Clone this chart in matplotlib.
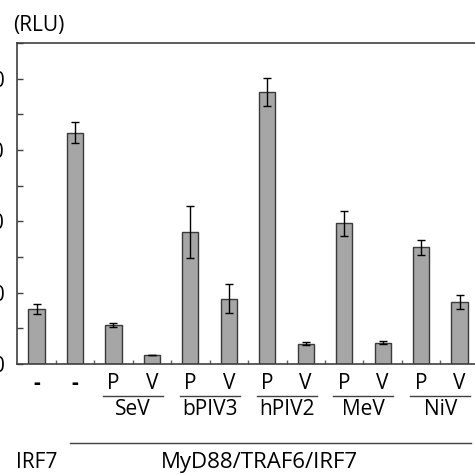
import matplotlib
matplotlib.use('Agg')

from matplotlib import pyplot
import numpy as np

pyplot.rcParams['font.family'] = ['Open Sans', 'DejaVu Sans']

# bar data (RLU)
bar_labels = ['-', '-', 'P', 'V', 'P', 'V', 'P', 'V', 'P', 'V', 'P', 'V']
values = [15.4, 64.9, 10.9, 2.4, 36.9, 18.3, 76.3, 5.7, 39.4, 6.0, 32.7, 17.4]
errors = [1.4, 2.9, 0.5, 0.0, 7.3, 4.0, 4.0, 0.4, 3.5, 0.35, 2.0, 2.05]
groups = ['SeV', 'bPIV3', 'hPIV2', 'MeV', 'NiV']
y_ticks = [0, 20, 40, 60, 80]

FS = 15

fig = pyplot.figure(figsize=(4.75, 4.75), dpi=100)
ax = fig.add_axes([0.0364, 1 - 364 / 475.0, 0.9716, 321 / 475.0])

x = np.arange(len(values))
ax.bar(x, values, width=0.42, color='#a6a6a6', edgecolor='#3a3a3a', linewidth=1.0)
ax.errorbar(x, values, yerr=errors, fmt='none', ecolor='black', elinewidth=1.0,
            capsize=3, capthick=1.0)

ax.set_xlim(-0.5, 11.5)
ax.set_ylim(0, 90)
ax.set_yticks(y_ticks)
ax.set_yticks(np.arange(0, 91, 10), minor=True)
ax.set_yticklabels([str(v) for v in y_ticks], fontsize=FS)
ax.tick_params(axis='y', which='both', direction='in', length=4, width=1,
               color='#404040', pad=9)

ax.set_xticks([])
ax.set_xticks(np.arange(0.5, 11.5, 1.0), minor=True)
ax.tick_params(axis='x', which='minor', direction='in', length=3, width=1,
               color='#606060')

for s in ['left', 'top', 'bottom', 'right']:
    ax.spines[s].set_color('#404040')
    ax.spines[s].set_linewidth(1.2)

trans = ax.get_xaxis_transform()
for i, lab in enumerate(bar_labels):
    ax.text(i, -0.061, lab, transform=trans, ha='center', va='center',
            fontsize=FS, fontweight='bold' if lab == '-' else 'normal')

for g, name in enumerate(groups):
    x0 = 2 + 2 * g
    ax.plot([x0 - 0.28, x0 + 1 + 0.28], [-0.0997, -0.0997], transform=trans,
            color='#404040', lw=1.0, clip_on=False)
    ax.text(x0 + 0.5, -0.143, name, transform=trans, ha='center', va='center',
            fontsize=FS)

ax.plot([0.88, 11.29], [-0.245, -0.245], transform=trans, color='#404040',
        lw=1.0, clip_on=False)
ax.text(0, -0.308, 'IRF7', transform=trans, ha='center', va='center', fontsize=FS)
ax.text(5.8, -0.308, 'MyD88/TRAF6/IRF7', transform=trans, ha='center',
        va='center', fontsize=16)

fig.text(13 / 475.0, 1 - 25 / 475.0, '(RLU)', ha='left', va='center', fontsize=FS)

pyplot.savefig('out.png', dpi=100)
pyplot.close()
